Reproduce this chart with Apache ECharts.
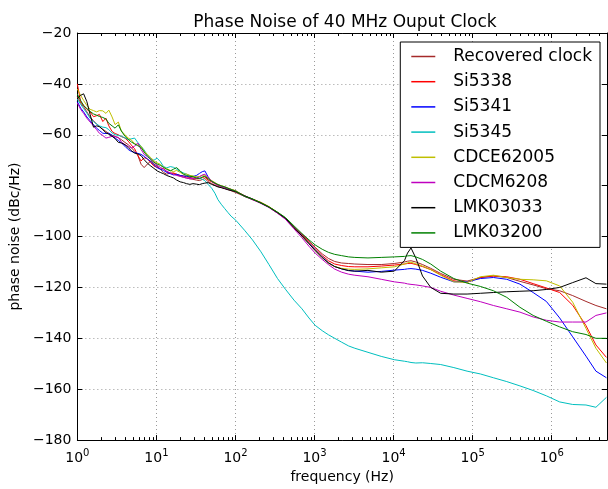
<!DOCTYPE html>
<html>
<head>
<meta charset="utf-8">
<script src="https://cdn.jsdelivr.net/npm/echarts@6/dist/echarts.min.js"></script>
<style>html,body{margin:0;padding:0;background:#fff}#c{width:608px;height:489px}</style>
</head>
<body>
<div id="c"></div>
<script>
const freq = [1,1.1,1.2,1.32,1.45,1.6,1.75,1.9,2.1,2.3,2.5,2.75,3,3.3,3.6,4,4.4,4.8,5.3,5.8,6.4,7,7.7,8.5,9.3,
  10.2,11.2,12.3,13.5,15,16.5,18,20,22,24,26.5,29,32,35,38,41,45,50,55,60,66,73,80,88,101,
  130,164,210,265,340,428,550,693,850,1019,1250,1497,1800,2198,2700,3230,4740,6970,10200,13700,
  15000,16600,19100,23200,29500,39400,57800,85000,125000,183000,270000,396000,582000,855000,
  1260000,1840000,2710000,3620000,4920000];
const seriesNames = ['Recovered clock','Si5338','Si5341','Si5345','CDCE62005','CDCM6208','LMK03033','LMK03200'];
const recovered = [-45,-47.5,-49,-51,-53,-54.5,-55.8,-56.8,-57.8,-58.7,-59.5,-60.2,-60.6,-61.2,-61.9,-63,-63.9,-65,-66.5,-68,-71.6,-72.9,-71.5,-70.3,-71.5,
  -72.3,-73.5,-74.8,-75.5,-75,-75.2,-75.8,-76.3,-76.7,-77,-77.3,-77.5,-77.8,-78,-77.6,-77.2,-78.4,-79.2,-79.8,-80.3,-80.7,-81.1,-81.5,-82,-82.7,
  -84.2,-85.5,-86.8,-88.5,-90.8,-93,-96.3,-99,-101.8,-104.2,-106.8,-108.6,-109.8,-110.4,-110.6,-110.8,-111,-111,-110.6,-110,
  -109.7,-109.5,-110,-111,-112.5,-114.5,-116.8,-117.5,-116.1,-115.5,-116.1,-117.6,-119,-120.5,-121.3,-123.2,-125.5,-127.1,-128.4];
const si5338 = [-40,-47,-48.5,-50,-51,-52.9,-52.5,-52,-54.8,-53.5,-56.5,-58.7,-59.5,-60,-60.7,-61.3,-62.5,-64,-65.5,-68,-70.3,-69,-69.5,-71,-72.3,
  -72.8,-73.5,-73.2,-74.5,-75.2,-75,-75.5,-76,-76.2,-76.5,-76.8,-77,-77.2,-77.3,-76.8,-76.5,-77.8,-78.5,-79.2,-79.8,-80.2,-80.6,-81.1,-81.5,-82.1,
  -84,-85.3,-86.6,-88.3,-90.5,-92.8,-96.3,-99.3,-102.3,-104.8,-107.5,-109.5,-110.8,-111.4,-111.8,-111.9,-111.9,-111.6,-111.2,-110.8,
  -110.6,-110.5,-111,-111.8,-113,-115,-117.4,-118,-116.1,-115.5,-115.8,-116.8,-118.5,-120.2,-122,-127,-135,-142.6,-147.5];
const si5341 = [-47,-49.5,-51,-53,-54.5,-56,-57.4,-58.3,-59.4,-59.5,-59.4,-60.2,-61.3,-62.2,-63.2,-64.5,-65.8,-66.5,-67,-67.3,-67.7,-68.5,-69.5,-70.5,-71.8,
  -72.9,-73.5,-74,-74.8,-75.3,-75.8,-75.5,-76,-76.2,-76.3,-76.6,-76.4,-76,-75.2,-74.5,-74.2,-76.5,-78.2,-79,-79.6,-80.1,-80.6,-81,-81.5,-82.1,
  -84,-85.2,-86.8,-88.4,-90.6,-93,-96.5,-99.6,-102.6,-105.2,-108,-110.3,-111.8,-112.7,-113.3,-113.6,-114,-113.7,-113.2,-112.9,
  -112.7,-112.6,-112.8,-113.3,-114.4,-116,-117.8,-117.8,-116.5,-116.1,-116.8,-118.7,-122,-125.5,-132,-139.4,-147,-152.9,-155.5];
const si5345 = [-46,-48,-49.7,-51.5,-53.5,-54.8,-55.8,-56.5,-57,-57.2,-58,-59.3,-60,-60.2,-60.6,-61.2,-61.9,-61.6,-61.3,-63,-64.5,-66,-68,-69.3,-70,
  -69.2,-70.5,-72.5,-73,-72.5,-72.8,-73.5,-74.5,-75,-75.5,-76,-76.3,-76.6,-77,-77.5,-78,-79.5,-81,-83,-85.5,-87.3,-89,-90.5,-92,-93.6,
  -97.5,-101.3,-106,-111,-116.5,-120.7,-125,-128.4,-132,-134.9,-137,-138.6,-140,-141.5,-143,-143.9,-145.5,-147.1,-148.4,-149,
  -149.2,-149.5,-149.7,-149.6,-149.9,-150.3,-151.5,-152.9,-154,-155.5,-157,-158.7,-160.5,-162.6,-165,-166,-166.2,-167.1,-163.2];
const cdce62005 = [-42,-44.5,-46.5,-48.5,-50,-50.5,-51,-50.5,-50.6,-51.6,-50.3,-53,-56,-55,-58.5,-60,-61.3,-62,-63.5,-64,-64.5,-66.5,-67.7,-69,-70.3,
  -71,-71.6,-72.8,-73.3,-74,-74.5,-74,-74.8,-75.5,-75.4,-76,-76.2,-76.5,-76.4,-76,-75.8,-77,-78,-78.8,-79.5,-80,-80.4,-80.9,-81.4,-82,
  -84,-85.2,-86.6,-88.2,-90.5,-92.8,-96.5,-99.8,-102.8,-105.5,-108.2,-110.5,-111.8,-112.5,-112.8,-112.9,-112.7,-112.3,-111.9,-110.8,
  -110.3,-110.1,-110.7,-111.6,-113,-115.2,-117.8,-118,-115.8,-115.2,-116.1,-116.8,-117,-117.4,-119.4,-125.8,-136.1,-143.9,-149.7];
const cdcm6208 = [-47.5,-50,-51.6,-53.5,-55,-56.5,-58,-59.4,-60.3,-61.3,-61,-60.6,-60.8,-61,-62.8,-63.9,-64.6,-65.2,-64.5,-63.2,-65.8,-67.7,-68.6,-69.7,-70.8,
  -72,-72.8,-73.5,-74.3,-75,-75.6,-76,-76.3,-76.7,-77,-77.3,-77.2,-77,-76.5,-75.8,-75.5,-76.8,-78.3,-79.2,-79.8,-80.3,-80.7,-81.2,-81.7,-82.3,
  -84.2,-85.5,-87,-88.6,-90.8,-93.2,-97,-100.5,-103.8,-106.5,-109,-111,-112.8,-114,-114.8,-115.2,-115.8,-116.8,-117.8,-118.3,
  -118.6,-118.8,-119,-119.4,-120,-121.5,-123,-124.3,-125.6,-127.1,-128.4,-129.7,-131.6,-132.9,-133.6,-133.6,-133.6,-131,-130];
const lmk03033 = [-45.8,-44.5,-43.9,-47,-52,-57,-56.5,-56.8,-58,-59.2,-59.8,-60.6,-61.5,-63,-63.2,-63.9,-65,-66.2,-67.2,-67.5,-68.2,-69.8,-71.2,-72.3,-73.2,
  -74.2,-74.8,-75.3,-76,-76.5,-77,-77.8,-78.5,-78.8,-79.2,-79.5,-79.2,-79.4,-79.6,-79.2,-79,-78.8,-79.5,-80,-80.5,-80.8,-81.2,-81.6,-81.9,-82.4,
  -84,-85.3,-86.8,-88.4,-90.6,-92.8,-96.5,-99.8,-102.8,-105.5,-108.3,-110.3,-111.8,-112.7,-113.4,-113.6,-113.3,-114,-113.6,-109.5,
  -106.5,-104.5,-108.4,-115.5,-120,-122.3,-122.6,-122.6,-122.3,-122,-121.7,-121.5,-121.3,-120.8,-120,-118.1,-116.2,-118.5,-118.7];
const lmk03200 = [-44,-46.5,-48.5,-49.7,-50.8,-51.8,-52.3,-52.8,-53.2,-53.8,-55.5,-56.5,-57.4,-56.1,-58.5,-60.6,-61.8,-62.8,-63.6,-64.3,-65,-66.8,-68.4,-69.7,-70.8,
  -71.5,-72,-72.8,-73.6,-74.2,-73.5,-72.9,-74.2,-75.5,-76,-76.3,-76.5,-77,-77.2,-76.6,-76.3,-77.3,-78.3,-79,-79.6,-80.1,-80.5,-81,-81.5,-82.2,
  -84.2,-85.3,-86.8,-88.4,-90.4,-92.5,-95.8,-98.8,-101.3,-103.3,-105,-106.2,-107,-107.5,-108,-108.2,-108.4,-108.2,-108,-107.8,
  -107.6,-107.5,-108,-109,-110.8,-113.6,-116.5,-118.3,-119.6,-121.3,-123.9,-127.8,-131,-133.3,-135.5,-137.4,-138.5,-140,-140];

const seriesValues = [recovered, si5338, si5341, si5345, cdce62005, cdcm6208, lmk03033, lmk03200];
const seriesColors = ['#a52a2a','#ff0000','#0000ff','#00bfbf','#bfbf00','#bf00bf','#000000','#008000'];
const xMin = 1, xMax = 5e6;
const yMin = -180, yMax = -20, yStep = 20;
const minorTicks = [];
for (let d = 0; d <= 6; d++) for (let k = 2; k <= 9; k++) { const v = k * Math.pow(10, d); if (v < xMax) minorTicks.push(v); }

const FONT = 'DejaVu Sans';
const chart = echarts.init(document.getElementById('c'), null, {renderer: 'canvas'});
const gridLine = {show: true, lineStyle: {color: '#9a9a9a', type: [1, 3], width: 1}};

const lineSeries = seriesNames.map(function (name, i) {
  return {
    name: name, type: 'line', xAxisIndex: 0, yAxisIndex: 0,
    symbol: 'none', showSymbol: false, smooth: false, clip: true,
    color: seriesColors[i],
    lineStyle: {width: 1, color: seriesColors[i]},
    data: freq.map(function (f, j) { return [f, seriesValues[i][j]]; })
  };
});

const minorTickSeries = {
  name: 'minorTicks', type: 'custom', xAxisIndex: 0, yAxisIndex: 0, silent: true, z: 3, clip: false,
  encode: {x: 0, y: 1},
  data: minorTicks.map(function (v) { return [v, yMin]; }),
  renderItem: function (params, api) {
    const pb = api.coord([api.value(0), yMin]);
    const pt = api.coord([api.value(0), yMax]);
    const x = Math.round(pb[0]) + 0.5;
    const st = {stroke: '#000', lineWidth: 1};
    return {
      type: 'group',
      children: [
        {type: 'line', shape: {x1: x, y1: pb[1], x2: x, y2: pb[1] - 3}, style: st},
        {type: 'line', shape: {x1: x, y1: pt[1], x2: x, y2: pt[1] + 3}, style: st}
      ]
    };
  }
};

const option = {
  animation: false,
  backgroundColor: '#fff',
  title: {
    text: 'Phase Noise of 40 MHz Ouput Clock',
    left: 340, top: 9, textAlign: 'center',
    textStyle: {fontFamily: FONT, fontSize: 17, fontWeight: 'normal', color: '#000'}
  },
  grid: {left: 73, right: 1, top: 33, bottom: 42, containLabel: false},
  legend: {
    orient: 'vertical', right: 8, top: 42,
    data: seriesNames,
    selectedMode: false,
    backgroundColor: '#fff', borderColor: '#000', borderWidth: 1, borderRadius: 0,
    padding: [5, 8, 5, 11],
    itemWidth: 24, itemHeight: 1.5, itemGap: 6.2, icon: 'rect',
    textStyle: {fontFamily: FONT, fontSize: 17, color: '#000', lineHeight: 19, padding: [0, 0, 0, 13]}
  },
  xAxis: [
    {
      type: 'log', logBase: 10, min: xMin, max: xMax, position: 'bottom', splitNumber: 7,
      name: 'frequency (Hz)', nameLocation: 'middle', nameGap: 29,
      nameTextStyle: {fontFamily: FONT, fontSize: 14, color: '#000'},
      axisLine: {show: true, onZero: false, lineStyle: {color: '#000', width: 1}},
      axisTick: {show: true, inside: true, length: 5, lineStyle: {color: '#000'}},
      splitLine: gridLine,
      axisLabel: {
        show: true, margin: 5, showMaxLabel: false, color: '#000',
        formatter: function (v) { return '{b|10}{s|' + Math.round(Math.log10(v)) + '}'; },
        rich: {
          b: {fontFamily: FONT, fontSize: 14, color: '#000', lineHeight: 20, verticalAlign: 'bottom'},
          s: {fontFamily: FONT, fontSize: 10, color: '#000', lineHeight: 20, verticalAlign: 'bottom', padding: [0, 0, 7, 0]}
        }
      }
    },
    {
      type: 'log', logBase: 10, min: xMin, max: xMax, position: 'top', splitNumber: 7,
      axisLine: {show: true, onZero: false, lineStyle: {color: '#000', width: 1}},
      axisTick: {show: true, inside: true, length: 5, lineStyle: {color: '#000'}},
      axisLabel: {show: false}, splitLine: {show: false}
    }
  ],
  yAxis: [
    {
      type: 'value', min: yMin, max: yMax, interval: yStep, position: 'left',
      name: 'phase noise (dBc/Hz)', nameLocation: 'middle', nameGap: 46,
      nameTextStyle: {fontFamily: FONT, fontSize: 14, color: '#000'},
      axisLine: {show: true, onZero: false, lineStyle: {color: '#000', width: 1}},
      axisTick: {show: true, inside: true, length: 5, lineStyle: {color: '#000'}},
      splitLine: gridLine,
      axisLabel: {
        fontFamily: FONT, fontSize: 14, color: '#000', margin: 6,
        formatter: function (v) { return String(v).replace('-', '\u2212'); }
      }
    },
    {
      type: 'value', min: yMin, max: yMax, interval: yStep, position: 'right',
      axisLine: {show: true, onZero: false, lineStyle: {color: '#000', width: 1}},
      axisTick: {show: true, inside: true, length: 5, lineStyle: {color: '#000'}},
      axisLabel: {show: false}, splitLine: {show: false}
    }
  ],
  series: lineSeries.concat([minorTickSeries])
};
chart.setOption(option);
</script>
</body>
</html>
